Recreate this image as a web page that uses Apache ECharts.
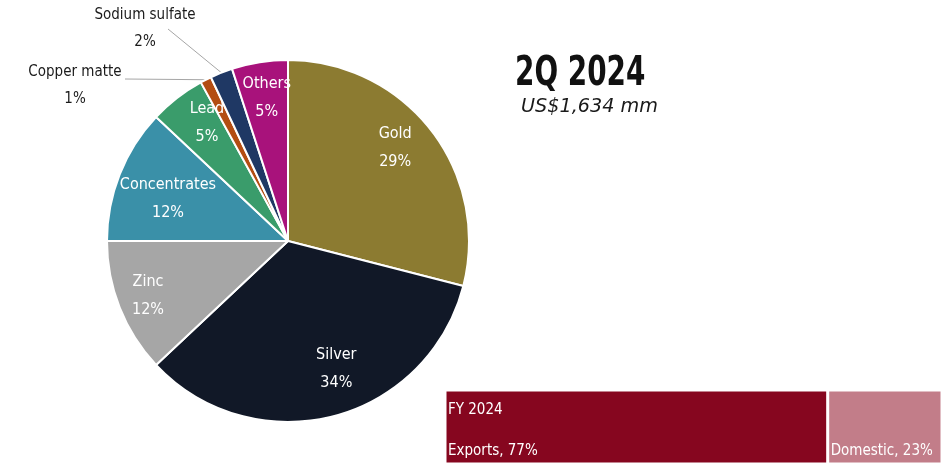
<!DOCTYPE html>
<html>
<head>
<meta charset="utf-8">
<script src="https://cdn.jsdelivr.net/npm/echarts@6/dist/echarts.min.js"></script>
<style>
  html, body { margin: 0; padding: 0; background: #fff; }
  #chart { width: 948px; height: 464px; }
</style>
</head>
<body>
<div id="chart"></div>
<script>
// Revenue mix by product, 2Q 2024 (% of total)
const products = ['Gold', 'Silver', 'Zinc', 'Concentrates', 'Lead', 'Copper matte', 'Sodium sulfate', 'Others'];
const shares = [29, 34, 12, 12, 5, 1, 2, 5];
const productColors = ['#8c7b31', '#111827', '#a6a6a6', '#3a90a8', '#3a9c6b', '#b34d12', '#1f3864', '#a8127b'];

// Sales destination, FY 2024 (% of total)
const period = ['FY 2024'];
const destinations = ['Exports', 'Domestic'];
const destinationShares = [77, 23];
const destinationColors = ['#86061f', '#c27d89'];

const titleText = '2Q 2024';
const totalText = 'US$1,634 mm';

const FAMILY = '"DejaVu Sans Condensed", "DejaVu Sans", sans-serif';

// Small slices get their labels outside, next to a straight leader line
const outsideLabels = {
  'Copper matte': { x: 75, y: 86, lineEnd: [125, 79] },
  'Sodium sulfate': { x: 145, y: 29, lineEnd: [168, 29] }
};
// Fine placement of labels drawn inside the slices
const insideNudge = {
  'Gold': [-5, -6], 'Silver': [13, -10], 'Zinc': [-8, 3], 'Concentrates': [12, 10],
  'Lead': [6, -6], 'Others': [1, -3]
};

const chart = echarts.init(document.getElementById('chart'), null, { renderer: 'canvas' });

const pieData = products.map((name, i) => ({
  name: name,
  value: shares[i],
  itemStyle: { color: productColors[i] }
}));

const CENTER = [288, 241];
const R = 181;

chart.setOption({
  animation: false,
  backgroundColor: '#ffffff',
  graphic: [
    {
      type: 'text', left: 515, top: 54, scaleX: 0.68,
      style: { text: titleText, font: 'bold 41px "DejaVu Sans", sans-serif', fill: '#111111' }
    },
    {
      type: 'text', left: 521, top: 97, scaleX: 0.96,
      style: { text: totalText, font: 'italic 20px "DejaVu Sans", sans-serif', fill: '#1a1a1a' }
    }
  ],
  grid: { left: 445, right: 6, top: 390, bottom: 0 },
  xAxis: { type: 'value', min: 0, max: 100, show: false },
  yAxis: { type: 'category', data: period, show: false },
  series: [
    {
      type: 'pie',
      center: CENTER,
      radius: [0, R],
      startAngle: 90,
      clockwise: true,
      avoidLabelOverlap: false,
      itemStyle: { borderColor: '#ffffff', borderWidth: 2 },
      data: pieData.map(d => {
        const out = outsideLabels[d.name];
        return Object.assign({}, d, {
          label: out ? {
            show: true, position: 'outside',
            formatter: '{b}\n{c}%', color: '#1a1a1a',
            fontFamily: FAMILY, fontSize: 15, lineHeight: 27, align: 'center'
          } : { show: false },
          labelLine: out ? { show: true, lineStyle: { color: '#a6a6a6', width: 1 } } : { show: false }
        });
      }),
      labelLayout: function (params) {
        const out = outsideLabels[products[params.dataIndex]];
        if (!out) return {};
        const anchor = params.labelLinePoints ? params.labelLinePoints[0] : null;
        const layout = { x: out.x, y: out.y, align: 'center', verticalAlign: 'middle' };
        if (anchor) layout.labelLinePoints = [anchor, out.lineEnd];
        return layout;
      }
    },
    {
      // label layer: a transparent ring so inside labels sit further out
      type: 'pie',
      center: CENTER,
      radius: [97, R],
      startAngle: 90,
      clockwise: true,
      silent: true,
      z: 3,
      itemStyle: { color: 'rgba(0,0,0,0)', borderWidth: 0 },
      labelLine: { show: false },
      data: pieData.map(d => ({
        name: d.name,
        value: d.value,
        label: outsideLabels[d.name] ? { show: false } : {
          show: true, position: 'inside',
          formatter: '{b}\n{c}%', color: '#ffffff',
          fontFamily: FAMILY, fontSize: 16, lineHeight: 28,
          offset: insideNudge[d.name] || [0, 0]
        }
      }))
    },
    ...destinations.map((name, i) => ({
      type: 'bar',
      name: name,
      stack: 'dest',
      barWidth: '100%',
      data: [destinationShares[i]],
      itemStyle: { color: destinationColors[i], borderColor: '#ffffff', borderWidth: 1.5 },
      label: {
        show: true,
        position: 'insideLeft',
        distance: 3,
        offset: [0, 4],
        formatter: (p) => '{t|' + (i === 0 ? p.name : ' ') + '}\n{v|' + p.seriesName + ', ' + p.value + '%}',
        rich: {
          t: { color: '#ffffff', fontFamily: FAMILY, fontSize: 15, lineHeight: 41 },
          v: { color: '#ffffff', fontFamily: FAMILY, fontSize: 15, lineHeight: 41 }
        }
      }
    }))
  ]
});
</script>
</body>
</html>
